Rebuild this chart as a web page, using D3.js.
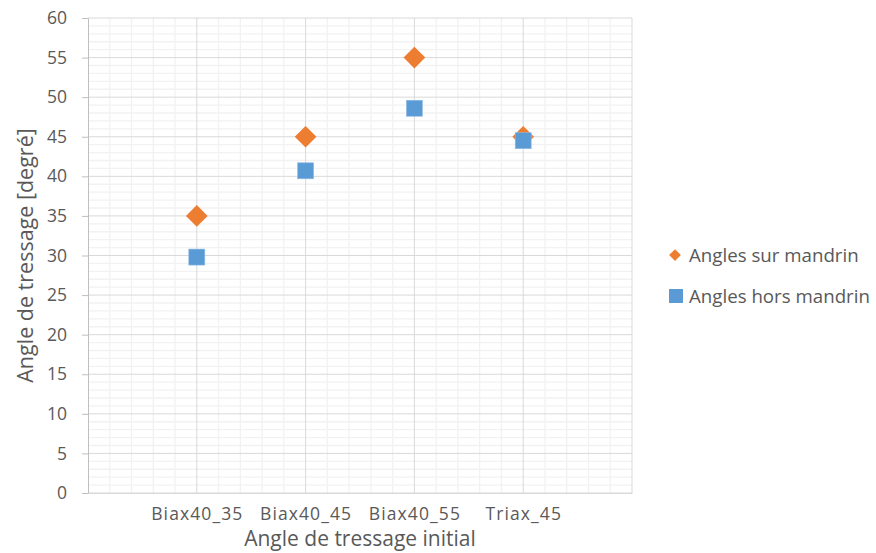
<!DOCTYPE html>
<html>
<head>
<meta charset="utf-8">
<script src="https://cdn.jsdelivr.net/npm/d3@7"></script>
<style>
  html, body { margin: 0; padding: 0; background: #fff; }
  svg { display: block; font-family: "Open Sans", "Liberation Sans", sans-serif; }
</style>
</head>
<body>
<svg id="chart" width="876" height="553"></svg>
<script>
// Braiding angle per preform
const categories = ["Biax40_35", "Biax40_45", "Biax40_55", "Triax_45"];
const onMandrel = [35, 45, 55, 45];
const offMandrel = [29.8, 40.7, 48.6, 44.5];
const seriesNames = ["Angles sur mandrin", "Angles hors mandrin"];
const yTicks = [0, 5, 10, 15, 20, 25, 30, 35, 40, 45, 50, 55, 60];

const colors = { orange: "#ED7D31", blue: "#5B9BD5", text: "#595959" };

const svg = d3.select("#chart");
const plot = { left: 88, right: 632, top: 18, bottom: 493 };

// categories sit at positions 1..n on a continuous axis from 0 to n+1
const x = d3.scaleLinear().domain([0, categories.length + 1]).range([plot.left, plot.right]);
const y = d3.scaleLinear().domain([0, 60]).range([plot.bottom, plot.top]);

const grid = svg.append("g");
// minor grid
grid.selectAll(".hmin").data(d3.range(0, 61, 1).filter(v => v % 5 !== 0)).join("line")
  .attr("x1", plot.left).attr("x2", plot.right)
  .attr("y1", d => y(d)).attr("y2", d => y(d))
  .attr("stroke", "#f2f2f2").attr("stroke-width", 1.3);
grid.selectAll(".vmin").data(d3.range(0, 25.5, 1).map(i => i * 0.2).filter((v, i) => i % 5 !== 0)).join("line")
  .attr("x1", d => x(d)).attr("x2", d => x(d))
  .attr("y1", plot.top).attr("y2", plot.bottom)
  .attr("stroke", "#f2f2f2").attr("stroke-width", 1.3);
// major grid
grid.selectAll(".hmaj").data(yTicks).join("line")
  .attr("x1", plot.left).attr("x2", plot.right)
  .attr("y1", d => y(d)).attr("y2", d => y(d))
  .attr("stroke", "#d9d9d9").attr("stroke-width", 1);
grid.selectAll(".vmaj").data(d3.range(1, categories.length + 2)).join("line")
  .attr("x1", d => x(d)).attr("x2", d => x(d))
  .attr("y1", plot.top).attr("y2", plot.bottom)
  .attr("stroke", "#d9d9d9").attr("stroke-width", 1);

// y axis
const yAxis = svg.append("g").attr("transform", `translate(${plot.left},0)`)
  .call(d3.axisLeft(y).tickValues(yTicks).tickSize(6).tickPadding(15));
yAxis.select(".domain").attr("stroke", "#bfbfbf");
yAxis.selectAll(".tick line").attr("stroke", "#bfbfbf");
yAxis.selectAll("text").attr("fill", colors.text).style("font-size", "17.5px")
  .style("font-family", "'Open Sans', sans-serif");

// x axis
const xAxis = svg.append("g").attr("transform", `translate(0,${plot.bottom})`)
  .call(d3.axisBottom(x).tickValues(d3.range(1, categories.length + 1))
    .tickFormat(d => categories[d - 1]).tickSize(0).tickPadding(15));
xAxis.select(".domain").attr("stroke", "#d9d9d9");
xAxis.selectAll("text").attr("fill", colors.text).style("font-size", "17.5px")
  .style("letter-spacing", "1.1px")
  .style("font-family", "'Open Sans', sans-serif");

// axis titles
svg.append("text").attr("x", (plot.left + plot.right) / 2).attr("y", 546)
  .attr("text-anchor", "middle").attr("fill", colors.text)
  .style("font-size", "21px").text("Angle de tressage initial");
svg.append("text").attr("transform", `translate(33,${(plot.top + plot.bottom) / 2}) rotate(-90)`)
  .attr("text-anchor", "middle").attr("fill", colors.text)
  .style("font-size", "21.5px").text("Angle de tressage [degré]");

// markers
const diamond = d3.symbol().type(d3.symbolDiamond2).size(300);
svg.append("g").selectAll("path").data(onMandrel).join("path")
  .attr("d", diamond)
  .attr("transform", (d, i) => `translate(${x(i + 1)},${y(d)})`)
  .attr("fill", colors.orange);
const sq = 16;
svg.append("g").selectAll("rect").data(offMandrel).join("rect")
  .attr("x", (d, i) => x(i + 1) - sq / 2).attr("y", d => y(d) - sq / 2)
  .attr("width", sq).attr("height", sq)
  .attr("fill", colors.blue).attr("stroke", "#8fbbe5").attr("stroke-width", 0.6);

// legend
const legend = svg.append("g");
legend.append("path").attr("d", d3.symbol().type(d3.symbolDiamond2).size(88))
  .attr("transform", "translate(675,255)").attr("fill", colors.orange);
legend.append("rect").attr("x", 669).attr("y", 289).attr("width", 14).attr("height", 14)
  .attr("fill", colors.blue);
legend.selectAll("text").data(seriesNames).join("text")
  .attr("x", 689).attr("y", (d, i) => 255 + i * 41).attr("dy", "0.35em")
  .attr("fill", colors.text).style("font-size", "18.7px").text(d => d);
</script>
</body>
</html>
